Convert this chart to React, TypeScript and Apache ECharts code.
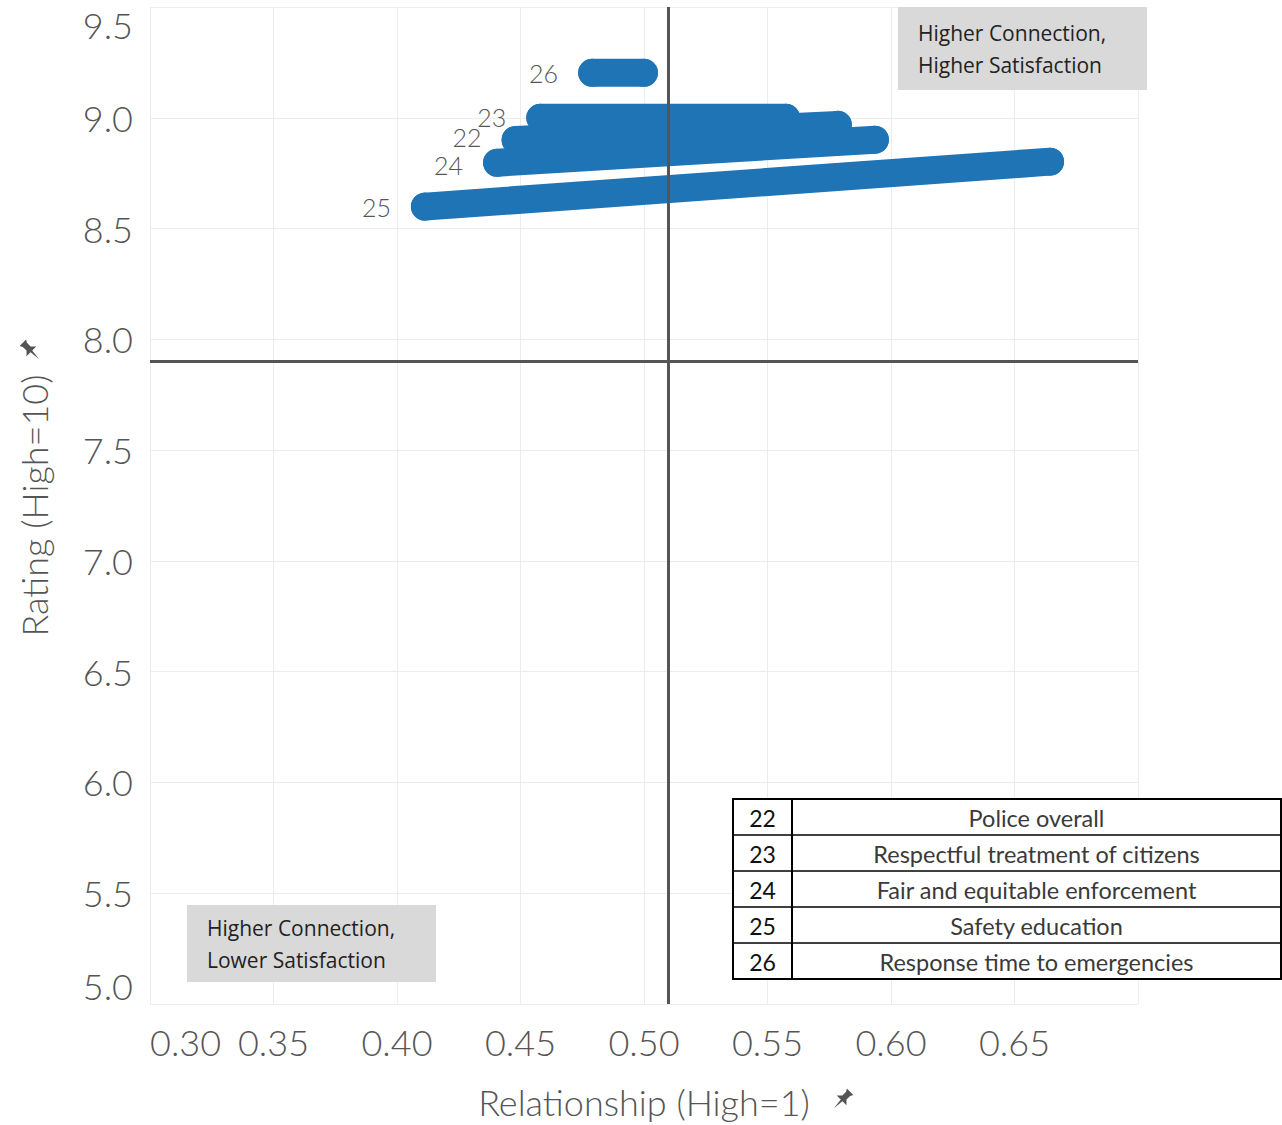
import React, { useEffect, useRef } from "react";
import * as echarts from "echarts";

// ---- data ----
const itemIds = ["22", "23", "24", "25", "26"];
const itemNames = [
  "Police overall",
  "Respectful treatment of citizens",
  "Fair and equitable enforcement",
  "Safety education",
  "Response time to emergencies",
];
// start point [relationship, rating] and end point for each item
const startX = [0.448, 0.458, 0.4405, 0.4113, 0.479];
const startY = [8.9, 9.0, 8.797, 8.599, 9.203];
const endX = [0.5785, 0.5575, 0.5935, 0.6644, 0.5];
const endY = [8.968, 9.0, 8.901, 8.802, 9.203];

const xTicks = { min: 0.3, max: 0.7, interval: 0.05 };
const yTicks = { min: 5.0, max: 9.5, interval: 0.5 };
const quadrantX = 0.5077;
const quadrantY = 7.896;

const topRightText = "Higher Connection,\nHigher Satisfaction";
const bottomLeftText = "Higher Connection,\nLower Satisfaction";
const xTitle = "Relationship (High=1)";
const yTitle = "Rating (High=10)";

// small label nudges (pixels) so crowded labels do not collide
const labelNudge: number[][] = [[0, -3], [0, -1], [0, 2], [0, 0], [0, 0]];

const PIN_D =
  "M6 0 L14 0 L12.5 2.5 L12.5 7 L16 10.5 L4 10.5 L7.5 7 L7.5 2.5 Z M9 10.5 L11 10.5 L10 20 Z";

let registered = false;

export default function App() {
  const ref = useRef<HTMLDivElement>(null);
  useEffect(() => {
    if (!ref.current) return;
    if (!registered) {
      echarts.graphic.registerShape("pin", echarts.graphic.extendPath(PIN_D, {}));
      registered = true;
    }
    const chart = echarts.init(ref.current, null, { renderer: "svg" });
    const blue = "#1f74b6";
    const series: any[] = itemIds.map((id, i) => ({
      type: "line",
      name: id,
      silent: true,
      symbol: "circle",
      symbolSize: 28,
      itemStyle: { color: blue },
      lineStyle: { color: blue, width: 28, cap: "round" },
      data: [
        {
          value: [startX[i], startY[i]],
          label: {
            show: true,
            position: "left",
            distance: 20,
            offset: labelNudge[i],
            formatter: id,
            fontFamily: "Lato",
            fontWeight: 300,
            fontSize: 25,
            lineHeight: 20,
            color: "#555",
          },
        },
        { value: [endX[i], endY[i]] },
      ],
      z: 3,
    }));
    series.push({
      type: "line",
      data: [],
      markLine: {
        silent: true,
        symbol: "none",
        label: { show: false },
        lineStyle: { color: "#555", width: 3, type: "solid" },
        data: [{ xAxis: quadrantX }, { yAxis: quadrantY }],
      },
      z: 2,
    });

    const tableLeft = 733;
    const tableRight = 1281;
    const tableTop = 799;
    const rowH = 36;
    const divX = 792;
    const tableGraphics: any[] = [];
    tableGraphics.push({
      type: "rect",
      shape: { x: tableLeft, y: tableTop, width: tableRight - tableLeft, height: rowH * itemIds.length },
      style: { fill: "#fff", stroke: "#000", lineWidth: 2 },
      z: 10,
    });
    itemIds.forEach((id, i) => {
      const y = tableTop + i * rowH;
      if (i > 0) {
        tableGraphics.push({
          type: "line",
          shape: { x1: tableLeft, y1: y, x2: tableRight, y2: y },
          style: { stroke: "#000", lineWidth: 1.5 },
          z: 11,
        });
      }
      tableGraphics.push({
        type: "text",
        x: (tableLeft + divX) / 2,
        y: y + rowH / 2 + 1,
        style: {
          text: id,
          fontFamily: "Lato",
          fontSize: 23,
          fill: "#111",
          align: "center",
          verticalAlign: "middle",
        },
        z: 12,
      });
      tableGraphics.push({
        type: "text",
        x: (divX + tableRight) / 2,
        y: y + rowH / 2 + 1,
        style: {
          text: itemNames[i],
          fontFamily: "Lato",
          fontSize: 23.5,
          fill: "#3a3a3a",
          align: "center",
          verticalAlign: "middle",
        },
        z: 12,
      });
    });
    tableGraphics.push({
      type: "line",
      shape: { x1: divX, y1: tableTop, x2: divX, y2: tableTop + rowH * itemIds.length },
      style: { stroke: "#000", lineWidth: 2 },
      z: 11,
    });

    const boxText = (x: number, y: number, w: number, h: number, text: string) => [
      { type: "rect", shape: { x, y, width: w, height: h }, style: { fill: "#d9d9d9" }, z: 10 },
      {
        type: "text",
        x: x + 20,
        y: y + h / 2,
        style: {
          text,
          fontFamily: "Open Sans",
          fontSize: 21,
          lineHeight: 32,
          fill: "#222",
          align: "left",
          verticalAlign: "middle",
        },
        z: 11,
      },
    ];

    chart.setOption({
      animation: false,
      backgroundColor: "#fff",
      grid: { left: 150, top: 7, width: 988, height: 999, containLabel: false },
      xAxis: {
        type: "value",
        min: xTicks.min,
        max: xTicks.max,
        interval: xTicks.interval,
        axisLine: { show: false },
        axisTick: { show: false },
        splitLine: { show: true, lineStyle: { color: "#ececec", width: 1 } },
        axisLabel: {
          formatter: (v: number) => v.toFixed(2),
          fontFamily: "Lato",
          fontWeight: 300,
          fontSize: 36,
          color: "#555",
          margin: 20,
          alignMinLabel: "left",
          showMaxLabel: false,
        },
        name: xTitle,
        nameLocation: "middle",
        nameGap: 80,
        nameTextStyle: { fontFamily: "Lato", fontWeight: 300, fontSize: 36, color: "#555" },
      },
      yAxis: {
        type: "value",
        min: yTicks.min,
        max: yTicks.max,
        interval: yTicks.interval,
        axisLine: { show: false },
        axisTick: { show: false },
        splitLine: { show: true, lineStyle: { color: "#ececec", width: 1 } },
        axisLabel: {
          formatter: (v: number) => v.toFixed(1),
          fontFamily: "Lato",
          fontWeight: 300,
          fontSize: 36,
          color: "#555",
          margin: 17,
          verticalAlignMinLabel: "bottom",
          verticalAlignMaxLabel: "top",
        },
        name: yTitle,
        nameLocation: "middle",
        nameRotate: 90,
        nameGap: 98,
        nameTextStyle: { fontFamily: "Lato", fontWeight: 300, fontSize: 36, color: "#555" },
      },
      series,
      graphic: [
        ...boxText(898, 7, 249, 83, topRightText),
        ...boxText(187, 905, 249, 77, bottomLeftText),
        ...tableGraphics,
        {
          type: "pin",
          x: 832,
          y: 1090,
          originX: 10,
          originY: 10,
          scaleX: 1.15,
          scaleY: 1.15,
          rotation: -Math.PI / 4,
          style: { fill: "#555" },
          z: 12,
        },
        {
          type: "pin",
          x: 21,
          y: 341,
          originX: 10,
          originY: 10,
          scaleX: 1.15,
          scaleY: 1.15,
          rotation: Math.PI / 4,
          style: { fill: "#555" },
          z: 12,
        },
      ],
    });
    return () => chart.dispose();
  }, []);
  return (
    <div
      ref={ref}
      style={{ position: "absolute", left: 0, top: 0, width: 1282, height: 1125 }}
    />
  );
}
